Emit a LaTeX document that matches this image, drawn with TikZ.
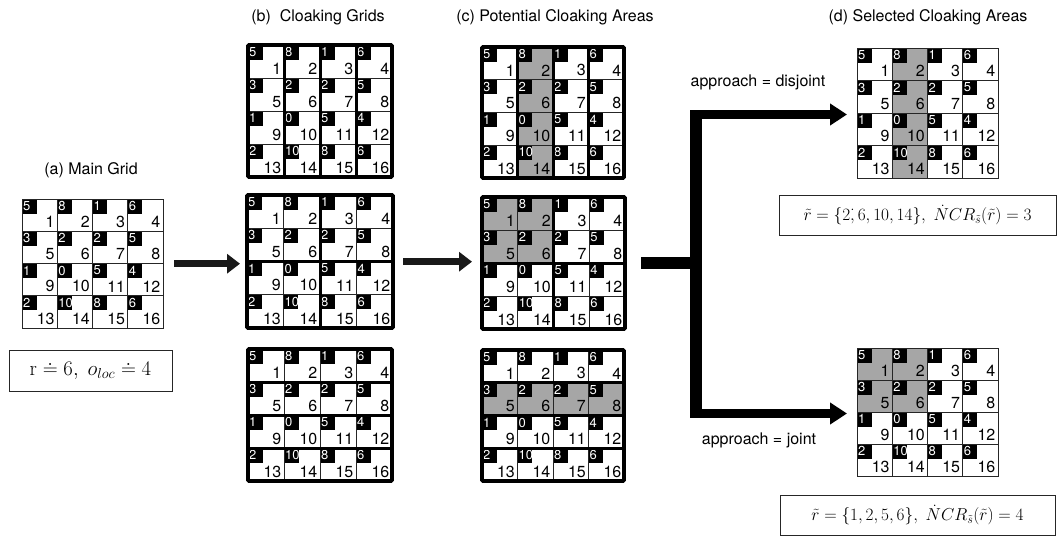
\documentclass[tikz,border=0pt]{standalone}
\usepackage[no-math]{fontspec}
\setmainfont{TeX Gyre Heros}
\usetikzlibrary{arrows.meta}
\definecolor{shadegray}{RGB}{166,166,166}
\tikzset{
  thinline/.style={line width=0.9pt, draw=black!85},
  thickline/.style={line width=3pt, draw=black},
  outerline/.style={line width=3.6pt, draw=black, rounded corners=1pt},
  smallnum/.style={text=white, font=\fontsize{13}{14}\selectfont, inner sep=0pt, anchor=north west},
  bignum/.style={font=\fontsize{16}{17}\selectfont, inner sep=0pt, anchor=south east},
  titletext/.style={font=\fontsize{16}{18}\selectfont, inner sep=0pt},
  labeltext/.style={font=\fontsize{16}{18}\selectfont, inner sep=0pt},
  formbox/.style={draw=black!85, line width=0.9pt, inner sep=0pt, font=\fontsize{17.5}{20}\selectfont},
  bigarrow/.style={line width=7pt, draw=black!90, -{Triangle[length=13pt,width=19pt]}},
  sidearrow/.style={line width=9pt, draw=black, -{Triangle[length=17pt,width=21pt]}},
  gridframe/.style={inner sep=0pt, anchor=north west},
}
% #1 name, #2 x0, #3 y0, #4 cell w, #5 cell h, #6 shaded cells (0 = none), #7 type (0 plain,1 columns,2 blocks,3 rows)
\newcommand{\cgrid}[7]{%
\begin{scope}[shift={(#2,#3)}]
  \node[gridframe, minimum width=4*#4pt, minimum height=4*#5pt] (#1) at (0,0) {};
  \foreach \s in {#6}{\ifnum\s>0
    \pgfmathtruncatemacro\sr{div(\s-1,4)}\pgfmathtruncatemacro\sc{mod(\s-1,4)}
    \fill[shadegray] (\sc*#4,\sr*#5) rectangle ++(#4,#5);
  \fi}
  \foreach \n [count=\k from 0] in {5,8,1,6,3,2,2,5,1,0,5,4,2,10,8,6}{
    \pgfmathtruncatemacro\rr{div(\k,4)}\pgfmathtruncatemacro\cc{mod(\k,4)}\pgfmathtruncatemacro\lab{\k+1}
    \fill[black] (\cc*#4,\rr*#5) rectangle ++(14.5,14.5);
    \node[smallnum] (#1-c\lab) at (\cc*#4+1,\rr*#5+2.2) {\n};
    \node[bignum] (#1-n\lab) at (\cc*#4+#4-2.5,\rr*#5+#5-3.5) {\lab};
  }
  \ifcase#7
    \foreach \i in {1,2,3}{\draw[thinline] (\i*#4,0) -- (\i*#4,4*#5); \draw[thinline] (0,\i*#5) -- (4*#4,\i*#5);}
    \draw[thinline] (0,0) rectangle (4*#4,4*#5);
  \or
    \foreach \i in {1,2,3}{\draw[thinline] (0,\i*#5) -- (4*#4,\i*#5);}
    \foreach \i in {1,2,3}{\draw[thickline] (\i*#4,0) -- (\i*#4,4*#5);}
    \draw[outerline] (0,0) rectangle (4*#4,4*#5);
  \or
    \foreach \i in {1,3}{\draw[thinline] (0,\i*#5) -- (4*#4,\i*#5); \draw[thinline] (\i*#4,0) -- (\i*#4,4*#5);}
    \draw[thickline] (2*#4,0) -- (2*#4,4*#5);
    \draw[thickline] (0,2*#5) -- (4*#4,2*#5);
    \draw[outerline] (0,0) rectangle (4*#4,4*#5);
  \or
    \foreach \i in {1,2,3}{\draw[thinline] (\i*#4,0) -- (\i*#4,4*#5);}
    \foreach \i in {1,2,3}{\draw[thickline] (0,\i*#5) -- (4*#4,\i*#5);}
    \draw[outerline] (0,0) rectangle (4*#4,4*#5);
  \fi
\end{scope}}

\begin{document}
\begin{tikzpicture}[x=1pt,y=-1pt]
\useasboundingbox[fill=white] (0,0) rectangle (1057,538);

% titles
\node[titletext] (ta) at (91,170) {(a) Main Grid};
\node[titletext] (tb) at (318,17) {(b)\ \ Cloaking Grids};
\node[titletext] (tc) at (555,17) {(c) Potential Cloaking Areas};
\node[titletext] (td) at (928,17) {(d) Selected Cloaking Areas};

% grids
\cgrid{gA}{22}{199}{35.25}{32.25}{0}{0}
\cgrid{b1}{248}{45}{36}{33}{0}{1}
\cgrid{b2}{247}{195}{36.5}{33.25}{0}{2}
\cgrid{b3}{248}{349}{36}{33}{0}{3}
\cgrid{c1}{482}{47}{35.5}{32.75}{2,6,10,14}{1}
\cgrid{c2}{482}{197}{35.75}{33}{1,2,5,6}{2}
\cgrid{c3}{482}{350}{35.5}{32.75}{5,6,7,8}{3}
\cgrid{d1}{857}{48}{35.25}{32.5}{2,6,10,14}{0}
\cgrid{d2}{857}{348}{35.25}{32}{1,2,5,6}{0}

% formula boxes
\node[formbox, font=\fontsize{20}{22}\selectfont, minimum width=163pt, minimum height=41pt] (fa) at (90.5,370.5) {$\mathrm{r}\doteq 6,\ o_{loc}\doteq 4$};
\node[formbox, minimum width=277pt, minimum height=40pt] (fd1) at (917.5,215) {$\tilde r = \{2\mathpunct{\dot{,}}6,10,14\},\; \dot{N}CR_{\tilde s}(\tilde r)=3$};
\node[formbox, minimum width=275pt, minimum height=40pt] (fd2) at (917.5,515) {$\tilde r = \{1,2,5,6\},\; \dot{N}CR_{\tilde s}(\tilde r)=4$};

% arrows between stages
\draw[bigarrow, shorten <=11pt, shorten >=7pt] (gA.east) -- (gA.east -| b2.west);
\draw[bigarrow, shorten <=10pt, shorten >=10pt] (b2.east) -- (b2.east -| c2.west);

% branching connector
\coordinate (jtop) at (696,110);
\coordinate (jbot) at (696,418);
\draw[line width=12pt, shorten <=16pt] (c2.east) -- (c2.east -| jtop);
\draw[line width=12pt] (jtop) -- (jbot);
\coordinate (jt) at (690,114.5);
\coordinate (jb) at (690,413.5);
\draw[sidearrow, shorten >=10pt] (jt) -- (jt -| d1.west);
\draw[sidearrow, shorten >=10pt] (jb) -- (jb -| d2.west);

\node[labeltext] (apd) at (758,82) {approach = disjoint};
\node[labeltext] (apj) at (759,440) {approach = joint};
\end{tikzpicture}
\end{document}
